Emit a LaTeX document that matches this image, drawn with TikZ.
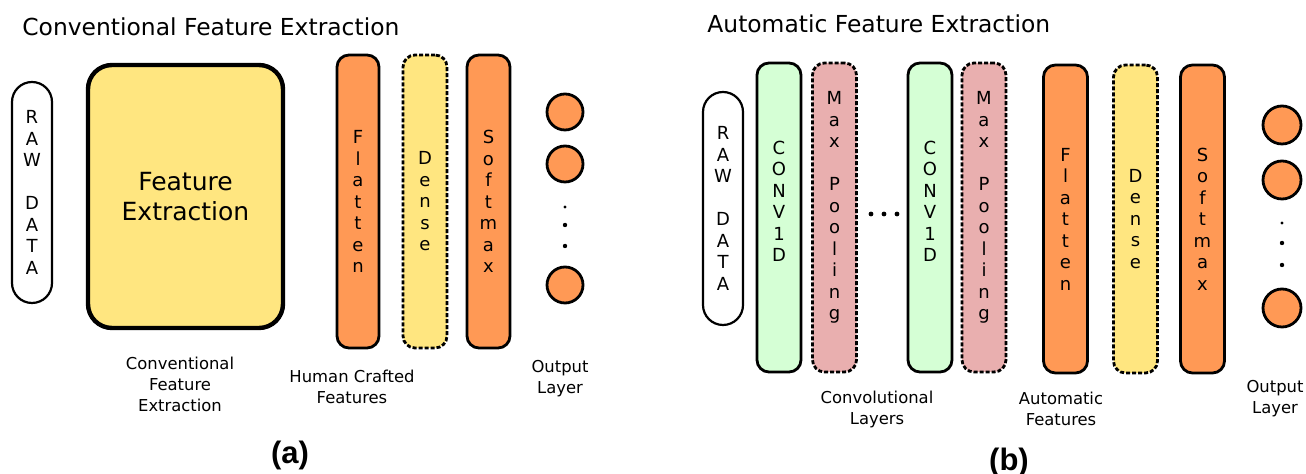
\documentclass[tikz,border=0pt]{standalone}
\usepackage{fontspec}
\setmainfont{DejaVu Sans}
\newfontfamily\tagfont{Liberation Sans}

\definecolor{ryellow}{HTML}{FFE680}
\definecolor{rorange}{HTML}{FF9955}
\definecolor{rgreen}{HTML}{D5FFD5}
\definecolor{rpink}{HTML}{E9AFAF}

\tikzset{
  bar/.style={draw,line width=1.4pt,rounded corners=6pt,minimum width=22pt,
    inner sep=0pt,align=center,font=\fontsize{9}{10.75}\selectfont},
  dashbar/.style={bar,dash pattern=on 2pt off 1pt},
  rawbox/.style={bar,line width=1.1pt,rounded corners=10pt,minimum width=20pt,fill=white},
  stack/.style={align=center,inner sep=0pt,font=\fontsize{9}{10.75}\selectfont},
  outnode/.style={circle,draw,line width=1.4pt,fill=rorange,minimum size=18pt,inner sep=0pt},
  caption/.style={align=center,inner sep=0pt,font=\fontsize{8.2}{10.5}\selectfont},
  heading/.style={anchor=base west,inner sep=0pt,font=\fontsize{11.7}{14}\selectfont},
  tag/.style={inner sep=0pt,font=\tagfont\bfseries\fontsize{15.5}{18}\selectfont}
}

\begin{document}
\begin{tikzpicture}[x=0.5pt,y=-0.5pt]
  \useasboundingbox (0,0) rectangle (1306,474);

  % (a) conventional
  \node[heading] (titlea) at (22,36) {Conventional Feature Extraction};
  \node[rawbox,minimum height=110.5pt] (rawa) at (32,192.5) {R\\A\\W\\[10.75pt]D\\A\\T\\A};
  \node[bar,fill=ryellow,line width=2.2pt,rounded corners=12pt,minimum width=97.5pt,minimum height=131.5pt,
    font=\fontsize{12.5}{15}\selectfont] (feata) at (185.5,196.5) {Feature\\Extraction};
  \node[bar,fill=rorange,minimum width=21pt,minimum height=146.5pt] (flata) at (358,201.5) {F\\l\\a\\t\\t\\e\\n};
  \node[dashbar,fill=ryellow,minimum height=146.5pt] (densea) at (425,201.5) {D\\e\\n\\s\\e};
  \node[bar,fill=rorange,minimum width=21.5pt,minimum height=146.5pt] (softa) at (488.5,201.5) {S\\o\\f\\t\\m\\a\\x};
  \node[outnode] (outa1) at (565,112) {};
  \node[outnode] (outa2) at (565,164) {};
  \node[outnode] (outa3) at (565,285) {};
  \fill (565,207) circle (0.8pt);
  \fill (565,225) circle (1.1pt);
  \fill (565,246) circle (1.1pt);
  \node[caption] (capfeat) at (180,384) {Conventional\\Feature\\Extraction};
  \node[caption] (caphuman) at (352,386.5) {Human Crafted\\Features};
  \node[caption] (capouta) at (560,378.5) {Output\\Layer};
  \node[tag] (taga) at (290,455) {(a)};

  % (b) automatic
  \node[heading] (titleb) at (707,33) {Automatic Feature Extraction};
  \node[rawbox,minimum height=116.5pt] (rawb) at (723,208.5) {R\\A\\W\\[10.75pt]D\\A\\T\\A};
  \node[bar,fill=rgreen,minimum height=154.5pt] (conva) at (779,217.5) {};
  \node[stack] at ([yshift=8pt]conva.center) {C\\O\\N\\V\\1\\D};
  \node[dashbar,fill=rpink,minimum height=154.5pt] (poola) at (834.5,217.5) {};
  \node[stack] at ([yshift=5pt]poola.center) {M\\a\\x\\[10.75pt]P\\o\\o\\l\\i\\n\\g};
  \fill (871,214) circle (1.2pt);
  \fill (884,214) circle (1.2pt);
  \fill (897,214) circle (1.2pt);
  \node[bar,fill=rgreen,minimum height=154.5pt] (convb) at (930,217.5) {};
  \node[stack] at ([yshift=8pt]convb.center) {C\\O\\N\\V\\1\\D};
  \node[dashbar,fill=rpink,minimum height=154.5pt] (poolb) at (984,217.5) {};
  \node[stack] at ([yshift=5pt]poolb.center) {M\\a\\x\\[10.75pt]P\\o\\o\\l\\i\\n\\g};
  \node[bar,fill=rorange,minimum height=154pt] (flatb) at (1065.5,219) {F\\l\\a\\t\\t\\e\\n};
  \node[dashbar,fill=ryellow,minimum height=154pt] (denseb) at (1135.5,219) {D\\e\\n\\s\\e};
  \node[bar,fill=rorange,minimum height=154pt] (softb) at (1202.5,219) {S\\o\\f\\t\\m\\a\\x};
  \node[outnode,minimum size=19pt] (outb1) at (1282,125) {};
  \node[outnode,minimum size=19pt] (outb2) at (1282,180) {};
  \node[outnode,minimum size=19pt] (outb3) at (1282,308) {};
  \fill (1282,223) circle (0.8pt);
  \fill (1282,243) circle (1.1pt);
  \fill (1282,265) circle (1.1pt);
  \node[caption] (capconv) at (877,409) {Convolutional\\Layers};
  \node[caption] (capauto) at (1061,409) {Automatic\\Features};
  \node[caption] (capoutb) at (1275,399) {Output\\Layer};
  \node[tag] (tagb) at (1009,462) {(b)};
\end{tikzpicture}
\end{document}
